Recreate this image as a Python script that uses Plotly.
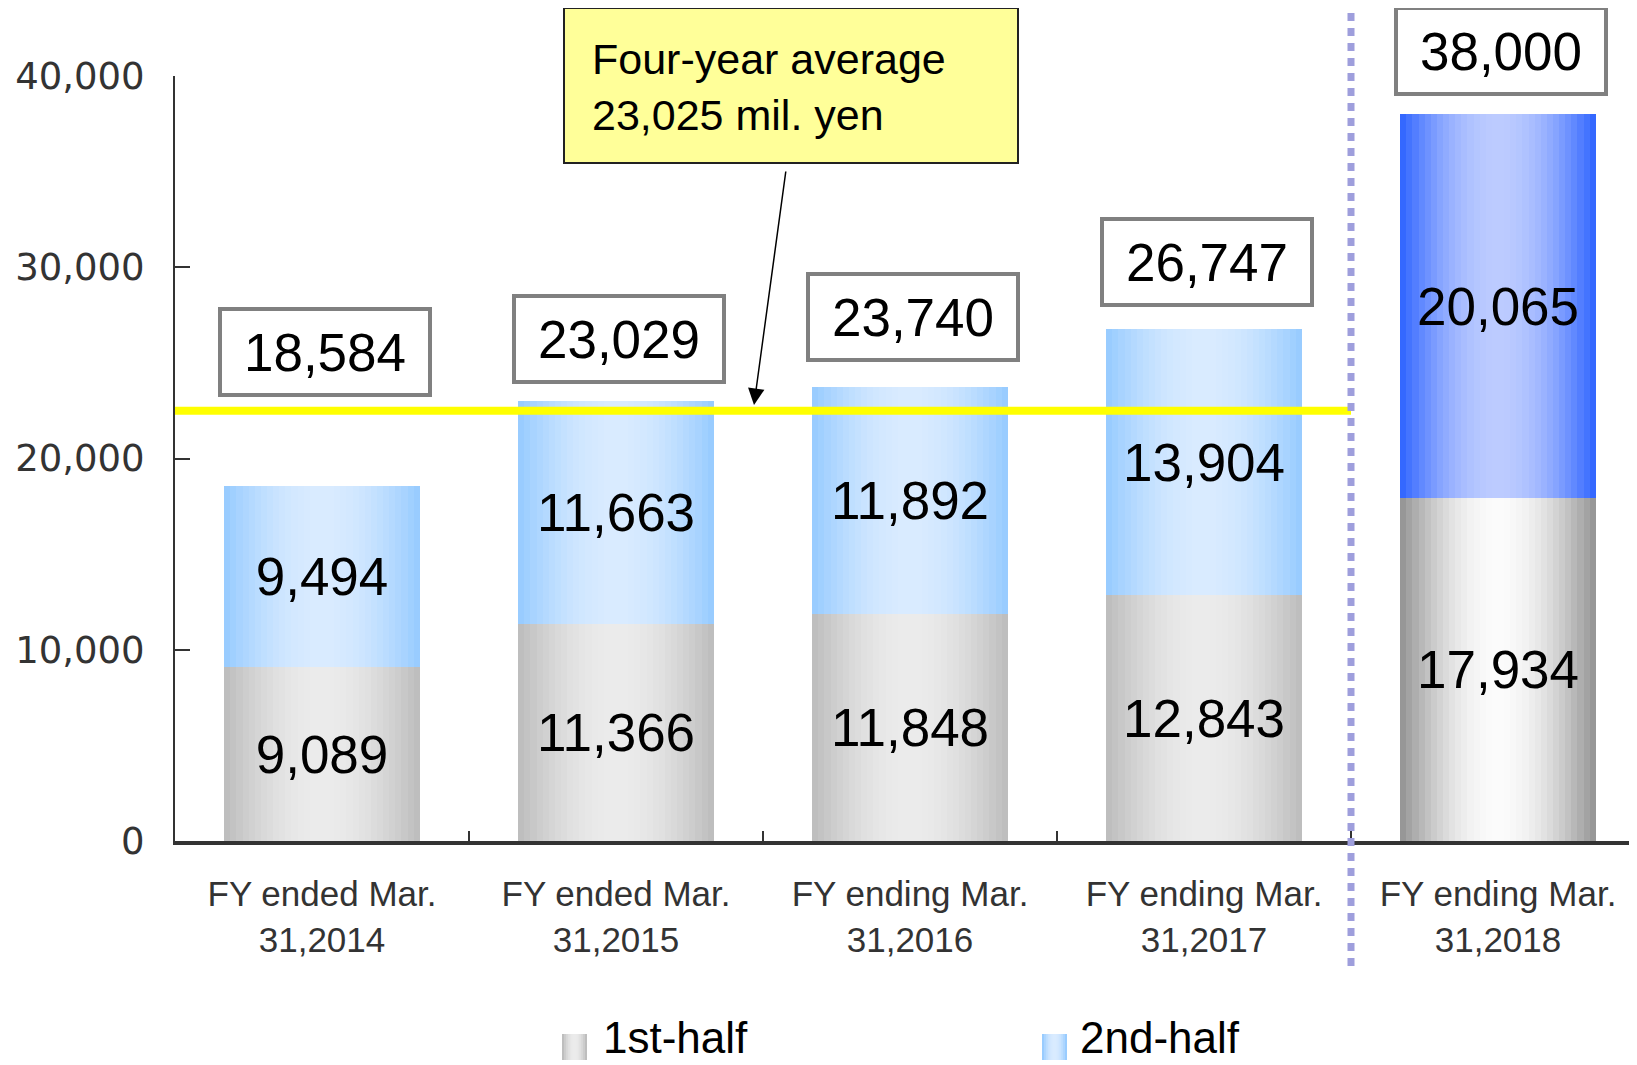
import plotly.graph_objects as go

# ---------------- data ----------------
CATEGORIES = [
    "FY ended Mar.<br>31,2014",
    "FY ended Mar.<br>31,2015",
    "FY ending Mar.<br>31,2016",
    "FY ending Mar.<br>31,2017",
    "FY ending Mar.<br>31,2018",
]
FIRST_HALF = [9089, 11366, 11848, 12843, 17934]
SECOND_HALF = [9494, 11663, 11892, 13904, 20065]
TOTALS = [18584, 23029, 23740, 26747, 38000]
AVERAGE_LINE = 22500
AVERAGE_TEXT = "Four-year average<br>23,025 mil. yen"
Y_TICKS = [0, 10000, 20000, 30000, 40000]
SERIES_NAMES = ["1st-half", "2nd-half"]

# ---------------- style ----------------
FONT = "Liberation Sans, Arial, sans-serif"
W = 0.665
N_LAYERS = 16
SEG1_EDGE = ["#BEBEBE"] * 4 + ["#979797"]
SEG1_CENTER = ["#EBEBEB"] * 4 + ["#FBFBFB"]
SEG2_EDGE = ["#99CCFF"] * 4 + ["#3468FF"]
SEG2_CENTER = ["#D9EBFF"] * 4 + ["#BCCBFF"]
BOX_YSHIFT = [89, 17, 25, 22, 18]

OFF = 8  # page body margin
PAGE_W, PAGE_H = 1637, 1065
L, R, T, B = 175, 1637, 76, 841  # plot area in page pixels


def px(x):
    return (x - L) / (R - L)


def py(y):
    return (B - y) / (B - T)


def hex2rgb(h):
    h = h.lstrip("#")
    return tuple(int(h[i:i + 2], 16) for i in (0, 2, 4))


def mix(c1, c2, t):
    a, b = hex2rgb(c1), hex2rgb(c2)
    return "rgb(%d,%d,%d)" % tuple(round(a[i] + (b[i] - a[i]) * t) for i in range(3))


def ease(t):
    return 1 - (1 - t) ** 1.8


fig = go.Figure()

# gradient layers
for values, base, edges, centers, name in [
    (FIRST_HALF, [0] * len(FIRST_HALF), SEG1_EDGE, SEG1_CENTER, SERIES_NAMES[0]),
    (SECOND_HALF, FIRST_HALF, SEG2_EDGE, SEG2_CENTER, SERIES_NAMES[1]),
]:
    for k in range(N_LAYERS):
        t = ease(k / (N_LAYERS - 1))
        fig.add_trace(go.Bar(
            x=CATEGORIES, y=values, base=base,
            width=[W * (1 - k / N_LAYERS)] * len(values),
            marker=dict(color=[mix(e, c, t) for e, c in zip(edges, centers)], line_width=0),
            name=name, showlegend=False, hoverinfo="skip",
        ))

# value labels inside segments
for values, base in [(FIRST_HALF, [0] * len(FIRST_HALF)), (SECOND_HALF, FIRST_HALF)]:
    fig.add_trace(go.Bar(
        x=CATEGORIES, y=values, base=base, width=[W] * len(values),
        marker=dict(color="rgba(0,0,0,0)", line_width=0),
        text=[f"{v:,}" for v in values], textposition="inside",
        insidetextanchor="middle", textangle=0,
        textfont=dict(size=53, color="black", family=FONT),
        showlegend=False, hoverinfo="skip",
    ))

shapes = []
annotations = []

# average line
shapes.append(dict(type="line", xref="x", yref="y", x0=-0.5, x1=3.5,
                   y0=AVERAGE_LINE, y1=AVERAGE_LINE,
                   line=dict(color="#FFFF00", width=8), layer="above"))
# dotted divider
shapes.append(dict(type="line", xref="x", yref="paper", x0=3.5, x1=3.5,
                   y0=py(966), y1=py(0),
                   line=dict(color="#9E9EDC", width=7, dash="8px,7px"), layer="above"))

# totals boxes
for i, tot in enumerate(TOTALS):
    top = FIRST_HALF[i] + SECOND_HALF[i]
    annotations.append(dict(
        x=CATEGORIES[i], y=top, xref="x", yref="y", yanchor="bottom",
        yshift=BOX_YSHIFT[i], xshift=3,
        text=f"{tot:,}", showarrow=False,
        font=dict(size=53, color="black", family=FONT),
        bgcolor="white", bordercolor="#808080", borderwidth=4, borderpad=0,
        width=206, height=82,
    ))

# average callout box
shapes.append(dict(type="rect", xref="paper", yref="paper",
                   x0=px(564), x1=px(1018), y0=py(163), y1=py(8),
                   fillcolor="#FFFF99", line=dict(color="#222222", width=2), layer="above"))
annotations.append(dict(
    x=px(590), y=py(87), xref="paper", yref="paper", xanchor="left", yanchor="middle",
    text=AVERAGE_TEXT, align="left", showarrow=False,
    font=dict(size=43, color="black", family=FONT),
))
annotations.append(dict(
    x=px(754), y=py(405), xref="paper", yref="paper",
    ax=32, ay=-235, axref="pixel", ayref="pixel",
    showarrow=True, arrowhead=2, arrowsize=2.2, arrowwidth=1.5, arrowcolor="black",
    text="",
))

# legend
legend_items = [
    (SERIES_NAMES[0], 562, 601, SEG1_EDGE[0], SEG1_CENTER[0]),
    (SERIES_NAMES[1], 1042, 1078, SEG2_EDGE[0], SEG2_CENTER[0]),
]
for name, sx, tx, e, c in legend_items:
    n = 6
    for k in range(n):
        frac = k / n
        half = 12.5 * (1 - frac)
        shapes.append(dict(type="rect", xref="paper", yref="paper",
                           x0=px(sx + 12.5 - half), x1=px(sx + 12.5 + half),
                           y0=py(1060), y1=py(1034),
                           fillcolor=mix(e, c, ease(k / (n - 1))), line_width=0, layer="above"))
    annotations.append(dict(
        x=px(tx), y=py(1037), xref="paper", yref="paper", xanchor="left", yanchor="middle",
        text=name, showarrow=False,
        font=dict(size=44, color="black", family=FONT),
    ))

fig.update_layout(
    width=PAGE_W - OFF, height=PAGE_H - OFF,
    margin=dict(l=L - OFF, r=PAGE_W - R, t=T - OFF, b=PAGE_H - B),
    paper_bgcolor="white", plot_bgcolor="white",
    barmode="overlay", bargap=0,
    showlegend=False,
    shapes=shapes, annotations=annotations,
    xaxis=dict(
        type="category", range=[-0.5, (R - L) / 294 - 0.5],
        showline=True, linecolor="#333333", linewidth=4,
        ticks="inside", tickson="boundaries", ticklen=10, tickwidth=2, tickcolor="#333333",
        tickfont=dict(size=35, color="#333333", family=FONT),
        ticklabelstandoff=19, showgrid=False, zeroline=False, fixedrange=True,
    ),
    yaxis=dict(
        range=[0, 40000], tickvals=Y_TICKS, tickformat=",",
        showline=True, linecolor="#333333", linewidth=2,
        ticks="inside", ticklen=15, tickwidth=2, tickcolor="#333333",
        tickfont=dict(size=37, color="#333333", family="DejaVu Sans"),
        ticklabelstandoff=21, showgrid=False, zeroline=False,
    ),
)

fig.write_html("out.html")
